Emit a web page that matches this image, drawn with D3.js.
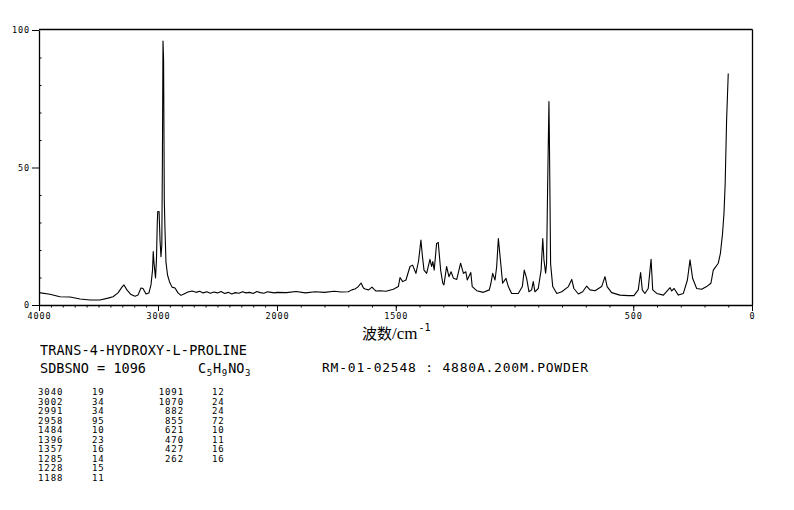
<!DOCTYPE html>
<html><head><meta charset="utf-8">
<script src="https://cdn.jsdelivr.net/npm/d3@7"></script>
<style>
html,body{margin:0;padding:0;background:#fff;}
svg{display:block;}
text{fill:#000;}
</style></head>
<body>
<svg id="chart" width="794" height="510"></svg>
<script>
// ---- data ----
const wavenumbers = [4000,3908,3824,3739,3655,3571,3487,3420,3378,3336,3303,3286,3261,3227,3193,3168,3143,3126,3101,3076,3059,3046,3040,3034,3021,3013,3006,3002,2996,2991,2983,2975,2968,2963,2958,2953,2947,2941,2933,2920,2903,2882,2857,2832,2807,2782,2748,2714,
2680,2650,2620,2590,2560,2530,2500,2470,2440,2410,2380,2350,2320,2290,2260,2230,2200,2170,2140,2110,2080,2050,2020,2000,
1960,1920,1880,1840,1800,1760,1730,1700,1685,1672,1660,1646,1636,1629,1614,1600,1590,1583,1566,1541,1510,1489,1482,1471,1457,1440,1429,1415,1404,1394,1388,1381,1370,1356,1349,1344,1338,1328,1321,1311,1302,1297,1286,1276,1267,1257,1243,1227,1215,1205,1199,1184,1178,1159,1131,1106,1099,1092,1082,1075,1068,1058,1050,1036,1026,1012,984,967,959,949,939,928,921,914,900,888,881,876,869,865,861,855,853,848,839,822,801,773,759,750,731,713,696,682,661,633,619,610,591,556,522,497,479,469,462,451,437,425,418,401,373,345,338,328,310,289,272,261,250,233,212,191,173,163,142,133,124,118,113,107,100];
const intensities = [4.5,3.9,3.0,2.9,2.2,1.8,1.8,2.5,3.0,4.4,6.5,7.3,5.5,3.8,3.2,3.6,6.2,6.0,4.0,4.4,7.3,12.7,19.4,15.6,9.8,16.4,30,34,34,34,23.6,17.6,21.8,52.7,96.0,89,38,27,15.6,10.9,8.4,6.5,6.2,4.4,3.5,4.0,4.7,5.1,
4.6,5.0,4.4,4.8,4.3,4.7,4.4,4.9,4.2,4.6,4.0,4.5,4.3,4.8,4.4,4.6,4.2,4.9,4.5,4.3,4.8,4.6,4.4,4.6,
4.5,4.9,4.4,4.8,4.6,5.0,4.7,4.8,5.5,5.8,6.5,8.0,6.2,5.8,5.5,6.5,5.6,5.1,5.2,5.0,5.7,6.7,10,8.5,9.1,14,14.5,11.5,16,23.6,18,12.7,11.5,16.6,14,15.8,12.7,22.4,22.7,12.7,7.9,7.3,14,10.3,12.1,9.7,9.3,15.2,11.5,12.1,9.1,11.8,6.7,5.2,4.6,5.5,8,11.5,9.1,14,24.2,15.2,7.9,9.7,6.7,4.2,4.2,6.7,12.7,9.7,4.8,5.5,8.5,4.8,6,12.7,24.2,16.4,11.6,15,40,74,60,15,6.7,4.2,4.8,6.7,9.3,6,4,4.8,6.9,5.5,5.2,6.7,10.3,6.7,4.5,3.6,3.4,3.4,5.5,11.8,5.5,4.2,6,16.6,5.5,4.2,3.6,6.3,5.1,6,3.6,4.2,9.1,16.4,9.7,6,5.7,6.7,7.9,12.7,15.2,18.8,26,33.3,44,67,84.2];
const xTickValues = [4000,3000,2000,1500,500,0];
const yTickValues = [0,50,100];
const yMinorValues = [10,20,30,40,60,70,80,90];
const peakWn1 = ["3040","3002","2991","2958","1484","1396","1357","1285","1228","1188"];
const peakI1  = ["19","34","34","95","10","23","16","14","15","11"];
const peakWn2 = ["1091","1070","882","855","621","470","427","262"];
const peakI2  = ["12","24","24","72","10","11","16","16"];
const compoundName = "TRANS-4-HYDROXY-L-PROLINE";
const sdbsText = "SDBSNO = 1096";
const conditionText = "RM-01-02548 : 4880A.200M.POWDER";

// ---- drawing ----
const svg = d3.select("#chart");
const mono = "'DejaVu Sans Mono', 'Liberation Mono', monospace";
const x = d3.scaleLinear().domain([4000, 2000, 0]).range([39, 277, 752]);
const y = d3.scaleLinear().domain([0, 100]).range([305, 30]);

// frame top & right
svg.append("line").attr("x1", 39).attr("x2", 752.5).attr("y1", 29.5).attr("y2", 29.5).attr("stroke", "#000").attr("stroke-width", 1.3);
svg.append("line").attr("x1", 752.5).attr("x2", 752.5).attr("y1", 29.5).attr("y2", 305).attr("stroke", "#000").attr("stroke-width", 1.3);

// x axis minor
const xMinor = svg.append("g").attr("transform", "translate(0,305)")
  .call(d3.axisBottom(x).tickValues(d3.range(0, 4001, 100)).tickSize(2.5).tickFormat(""));
xMinor.select(".domain").remove();
xMinor.selectAll("line").attr("stroke-width", 1);
// x axis major
const xAx = svg.append("g").attr("transform", "translate(0,305)")
  .call(d3.axisBottom(x).tickValues(xTickValues).tickSize(6).tickSizeOuter(0).tickPadding(2).tickFormat(d => String(d)));
xAx.select(".domain").attr("stroke-width", 1.3);
xAx.selectAll("text").attr("font-family", mono).attr("font-size", 8.5).attr("letter-spacing", 0.9);

// y axis
const yAx = svg.append("g").attr("transform", "translate(39,0)")
  .call(d3.axisLeft(y).tickValues(yTickValues).tickSize(7).tickSizeOuter(0).tickPadding(2).tickFormat(d => String(d)));
yAx.select(".domain").attr("stroke-width", 1.3);
yAx.selectAll("text").attr("font-family", mono).attr("font-size", 8.5).attr("letter-spacing", 0.9);
const yMin = svg.append("g").attr("transform", "translate(39,0)")
  .call(d3.axisRight(y).tickValues(yMinorValues).tickSize(2.5).tickFormat(""));
yMin.select(".domain").remove();

// spectrum
const pts = wavenumbers.map((w, i) => [w, intensities[i]]);
svg.append("path").datum(pts)
  .attr("fill", "none").attr("stroke", "#000").attr("stroke-width", 1.1).attr("stroke-linejoin", "round")
  .attr("d", d3.line().x(d => x(d[0])).y(d => y(d[1])));

// axis title
const t = svg.append("text").attr("x", 362).attr("y", 339).attr("font-size", 15);
t.append("tspan").attr("font-family", "'Noto Sans CJK SC'").text("波数");
t.append("tspan").attr("font-family", "'Liberation Serif', serif").attr("font-size", 17).text("/cm");
t.append("tspan").attr("font-family", mono).attr("font-size", 10).attr("dy", -8).attr("dx", 1).text("-1");

// info text
svg.append("text").attr("x", 40).attr("y", 355).attr("font-family", mono).attr("font-size", 13.5)
  .attr("textLength", 207).attr("lengthAdjust", "spacing").text(compoundName);
svg.append("text").attr("x", 40).attr("y", 373).attr("font-family", mono).attr("font-size", 13.5)
  .attr("textLength", 106).attr("lengthAdjust", "spacing").text(sdbsText);
const f = svg.append("text").attr("x", 197).attr("y", 373).attr("font-family", mono).attr("font-size", 13.5);
[["C",0],["5",1],["H",0],["9",1],["NO",0],["3",1]].forEach(([s, sub]) => {
  f.append("tspan").attr("font-size", sub ? 9 : 13.5).attr("baseline-shift", sub ? "-3" : null).attr("dx", sub ? 0.5 : 1).text(s);
});
svg.append("text").attr("x", 322).attr("y", 372).attr("font-family", mono).attr("font-size", 13)
  .attr("textLength", 266).attr("lengthAdjust", "spacing").text(conditionText);

// peak table
const rowY = i => 395 + i * 9.5;
const tbl = svg.append("g").attr("font-family", mono).attr("font-size", 9);
tbl.selectAll(".c1").data(peakWn1).join("text").attr("x", 38).attr("y", (d, i) => rowY(i)).attr("letter-spacing", 0.9).text(d => d);
tbl.selectAll(".c2").data(peakI1).join("text").attr("x", 92).attr("y", (d, i) => rowY(i)).attr("letter-spacing", 0.9).text(d => d);
tbl.selectAll(".c3").data(peakWn2).join("text").attr("x", 184).attr("y", (d, i) => rowY(i)).attr("text-anchor", "end").attr("letter-spacing", 0.9).text(d => d);
tbl.selectAll(".c4").data(peakI2).join("text").attr("x", 212).attr("y", (d, i) => rowY(i)).attr("letter-spacing", 0.9).text(d => d);
</script>
</body></html>
